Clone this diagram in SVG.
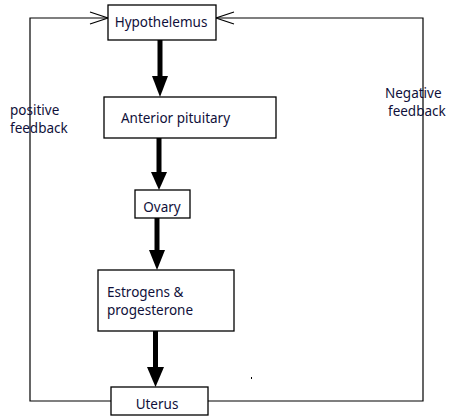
<svg xmlns="http://www.w3.org/2000/svg" width="455" height="420" viewBox="0 0 455 420">
<defs>
<style>
.box{fill:#fff;stroke:#000;stroke-width:1.3}
.t{font-family:"Noto Sans","DejaVu Sans",sans-serif;font-size:13.5px;fill:#10103a}
.thin{fill:none;stroke:#000;stroke-width:1.2}
.thick{stroke:#000;stroke-width:5}
.head{fill:#000}
</style>
</defs>
<rect width="455" height="420" fill="#fff"/>
<g id="connectors">
<polyline class="thin" points="111,401 30,401 30,18 108,18"/>
<polyline class="thin" points="90,12 108,18 90,24"/>
<polyline class="thin" points="208,401 423,401 423,18 216,18"/>
<polyline class="thin" points="234,12 216,18 234,24"/>
<line class="thick" x1="160" y1="40" x2="160" y2="78"/>
<polygon class="head" points="152,76 168,76 160,97"/>
<line class="thick" x1="159" y1="138" x2="159" y2="174"/>
<polygon class="head" points="151,172 167,172 159,190"/>
<line class="thick" x1="157" y1="218" x2="157" y2="252"/>
<polygon class="head" points="149,250 165,250 157,270"/>
<line class="thick" x1="155.5" y1="331" x2="155.5" y2="369"/>
<polygon class="head" points="147,367 164,367 155.5,387"/>
<rect x="251" y="377" width="1" height="2" fill="#000"/>
</g>
<g id="hypothelemus">
<rect class="box" x="108" y="5" width="108" height="35"/>
<text class="t" x="161" y="27" text-anchor="middle">Hypothelemus</text>
</g>
<g id="anterior-pituitary">
<rect class="box" x="104" y="97" width="172" height="41"/>
<text class="t" x="175.5" y="123" text-anchor="middle">Anterior pituitary</text>
</g>
<g id="ovary">
<rect class="box" x="135" y="190" width="55" height="28"/>
<text class="t" x="162" y="212" text-anchor="middle">Ovary</text>
</g>
<g id="estrogens">
<rect class="box" x="98" y="270" width="136" height="61"/>
<text class="t" x="107" y="297">Estrogens &amp;</text>
<text class="t" x="107" y="315">progesterone</text>
</g>
<g id="uterus">
<rect class="box" x="111" y="387" width="97" height="28"/>
<text class="t" x="157" y="409" text-anchor="middle">Uterus</text>
</g>
<g id="labels">
<text class="t" x="10" y="115">positive</text>
<text class="t" x="10" y="133">feedback</text>
<text class="t" x="385" y="98">Negative</text>
<text class="t" x="388" y="116">feedback</text>
</g>
</svg>
